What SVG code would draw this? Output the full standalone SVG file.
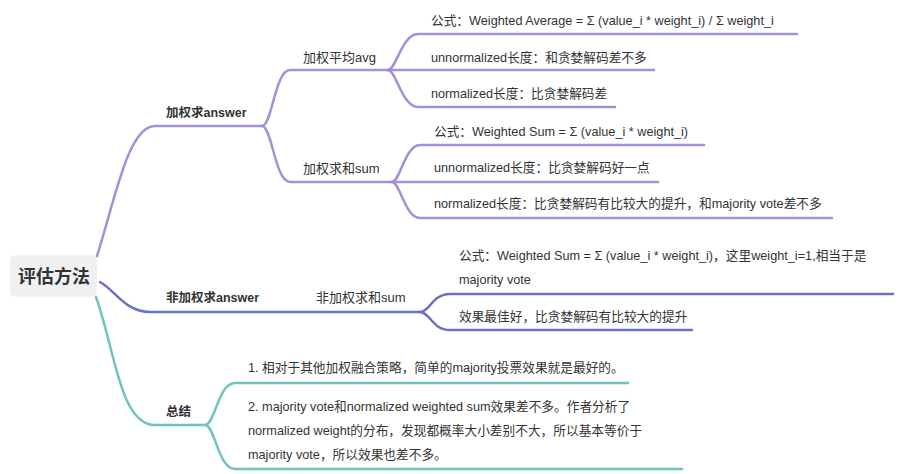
<svg xmlns="http://www.w3.org/2000/svg" width="908" height="474" viewBox="0 0 908 474">
<style>
text{font-family:"Liberation Sans","Noto Sans CJK SC",sans-serif;fill:#333;}
.n{font-size:12.5px;font-weight:bold;}
.m{font-size:13px;}
.l{font-size:12.7px;}
.root{font-size:18px;font-weight:bold;}
path{fill:none;stroke-width:2.5;stroke-linecap:round;}
.p{stroke:#a58fd9;}
.b{stroke:#6a70c6;}
.t{stroke:#70c4bb;}
</style>
<rect width="908" height="474" fill="#ffffff"/>
<g id="connectors">
<path class="p" d="M97 256 C115 200,128 126,155 126 H262"/>
<path class="p" d="M262 126 C272 126,275 70,290 70 H388"/>
<path class="p" d="M262 126 C272 126,275 182,290 182 H392"/>
<path class="p" d="M388 70 C396 70,402 34,418 34 H797"/>
<path class="p" d="M388 70 H654"/>
<path class="p" d="M388 70 C396 70,402 107,418 107 H615"/>
<path class="p" d="M392 182 C400 182,405 145,420 145 H704"/>
<path class="p" d="M392 182 H658"/>
<path class="p" d="M392 182 C400 182,405 218,420 218 H832"/>
<path class="b" d="M100 282 C115 290,125 312,150 312 H420"/>
<path class="b" d="M420 312 C430 312,432 294,450 294 H893"/>
<path class="b" d="M420 312 C430 312,432 330,450 330 H692"/>
<path class="t" d="M96 297 C115 350,120 425,155 425 H205"/>
<path class="t" d="M205 425 C215 425,218 383,235 383 H628"/>
<path class="t" d="M205 425 C215 425,218 469,235 469 H682"/>
</g>
<g id="root"><rect x="10" y="255" width="87" height="42" rx="6" fill="#eff0f1"/><text class="root" x="54" y="283" text-anchor="middle">评估方法</text></g>
<g id="n-weighted"><text class="n" x="166" y="117">加权求answer</text></g>
<g id="n-avg"><text class="m" x="303" y="62">加权平均avg</text></g>
<g id="n-sum"><text class="m" x="303" y="173">加权求和sum</text></g>
<g id="l-avg1"><text class="l" x="431" y="25">公式：Weighted Average = Σ (value_i * weight_i) / Σ weight_i</text></g>
<g id="l-avg2"><text class="l" x="431" y="62">unnormalized长度：和贪婪解码差不多</text></g>
<g id="l-avg3"><text class="l" x="431" y="98">normalized长度：比贪婪解码差</text></g>
<g id="l-sum1"><text class="l" x="434" y="136">公式：Weighted Sum = Σ (value_i * weight_i)</text></g>
<g id="l-sum2"><text class="l" x="434" y="172">unnormalized长度：比贪婪解码好一点</text></g>
<g id="l-sum3"><text class="l" x="434" y="208">normalized长度：比贪婪解码有比较大的提升，和majority vote差不多</text></g>
<g id="n-unweighted"><text class="n" x="166" y="302">非加权求answer</text></g>
<g id="n-unsum"><text class="m" x="316" y="302">非加权求和sum</text></g>
<g id="l-un1"><text class="l" x="459" y="260">公式：Weighted Sum = Σ (value_i * weight_i)，这里weight_i=1,相当于是</text><text class="l" x="459" y="284">majority vote</text></g>
<g id="l-un2"><text class="l" x="459" y="321">效果最佳好，比贪婪解码有比较大的提升</text></g>
<g id="n-summary"><text class="n" x="166" y="416">总结</text></g>
<g id="l-s1"><text class="l" x="248" y="372">1. 相对于其他加权融合策略，简单的majority投票效果就是最好的。</text></g>
<g id="l-s2"><text class="l" x="248" y="411">2. majority vote和normalized weighted sum效果差不多。作者分析了</text><text class="l" x="248" y="435">normalized weight的分布，发现都概率大小差别不大，所以基本等价于</text><text class="l" x="248" y="459">majority vote，所以效果也差不多。</text></g>
</svg>
